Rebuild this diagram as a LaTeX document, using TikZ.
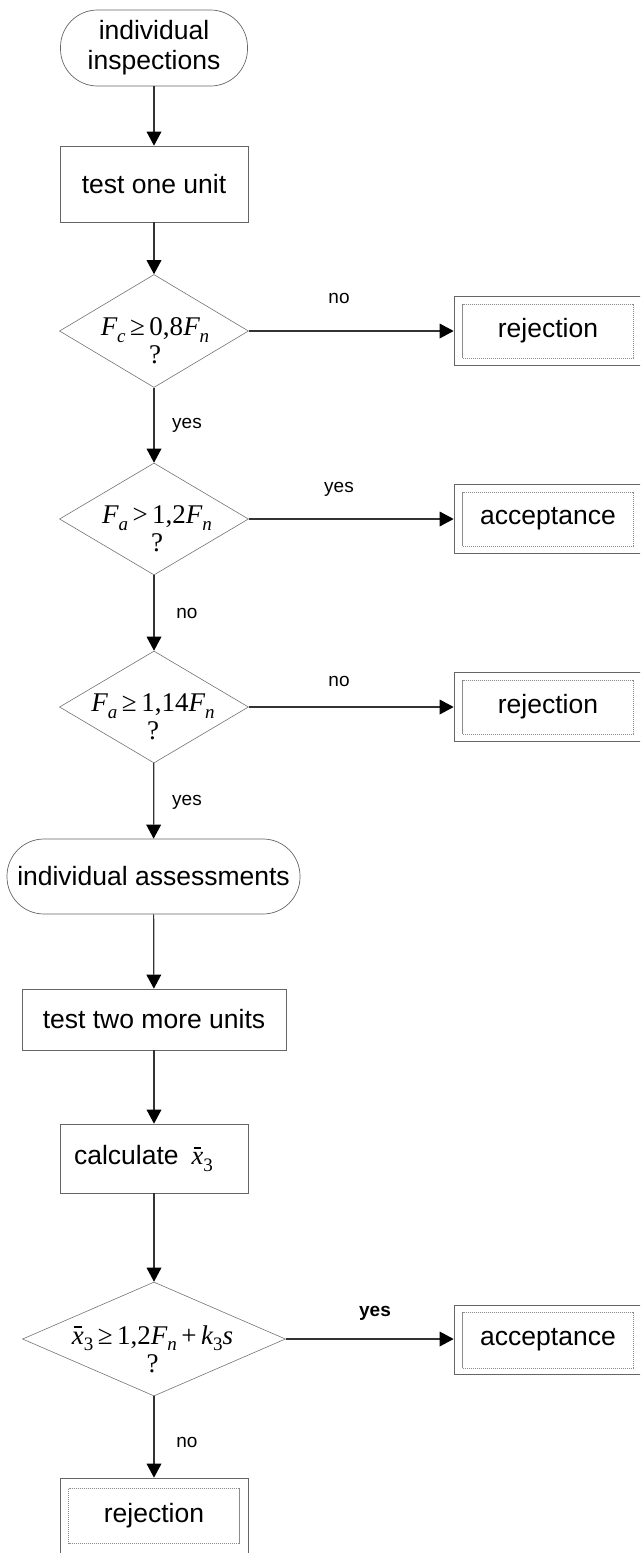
\documentclass[tikz,border=0pt]{standalone}
\usepackage{fontspec}
\setmainfont{Liberation Sans}
\newfontfamily\tms{Liberation Serif}
\usetikzlibrary{arrows.meta,shapes.geometric}
\newcommand\iv[1]{{\tms\itshape #1}}
\newcommand\sbi[1]{\raisebox{-0.24em}{\fontsize{19}{19}\selectfont\tms\itshape #1}}
\newcommand\sbu[1]{\raisebox{-0.24em}{\fontsize{19}{19}\selectfont\tms #1}}
\newcommand\xbar{\leavevmode\rlap{\hspace{0.07em}\raisebox{0.6em}{\rule{0.3em}{1.7pt}}}\iv{x}}
\begin{document}
\begin{tikzpicture}[x=1pt,y=-1pt,
  proc/.style={draw=black!60, line width=0.7pt, fill=white, inner sep=0pt,
    font=\fontsize{26.5}{30}\selectfont, align=center},
  term/.style={proc, rounded corners=37pt},
  dec/.style={draw=black!55, line width=0.6pt, diamond, inner sep=0pt},
  mtext/.style={inner sep=0pt, align=center, font=\fontsize{27}{28}\selectfont\tms},
  outcome/.style={proc, minimum width=188pt, minimum height=69pt},
  inbox/.style={draw=black!45, line width=0.6pt, dash pattern=on 1.5pt off 0.5pt},
  arr/.style={draw=black!80, line width=1.2pt, -{Triangle[length=14pt,width=15pt,line width=0pt,color=black]}},
  lab/.style={font=\fontsize{19}{19}\selectfont, inner sep=0pt}
]
\useasboundingbox (0,0) rectangle (640,1553);
\clip (0,0) rectangle (640,1553);

% main column
\node[term, minimum width=187pt, minimum height=76pt] (start) at (154,48) {individual\\inspections};
\node[proc, minimum width=188pt, minimum height=76pt] (t1) at (154,184) {test one unit};

\node[dec, minimum width=189pt, minimum height=113pt] (d1) at (154,331) {};
\node[mtext] (d1t) at (155,341) {\iv{F}\sbi{c}\,≥\,0,8\iv{F}\sbi{n}\\?};

\node[dec, minimum width=189pt, minimum height=112pt] (d2) at (154,519) {};
\node[mtext] (d2t) at (157,529) {\iv{F}\sbi{a}\,>\,1,2\iv{F}\sbi{n}\\?};

\node[dec, minimum width=189pt, minimum height=112pt] (d3) at (154,707) {};
\node[mtext] (d3t) at (153,717) {\iv{F}\sbi{a}\,≥\,1,14\iv{F}\sbi{n}\\?};

\node[term, minimum width=293pt, minimum height=75pt] (term2) at (153.5,876.5) {individual assessments};
\node[proc, minimum width=264pt, minimum height=61pt] (t2) at (154,1019.5) {test two more units};
\node[proc, minimum width=188pt, minimum height=69pt] (calc) at (154,1158.5) {calculate\hspace{13pt}\xbar\sbu{3}\hspace{21pt}};

\node[dec, minimum width=263pt, minimum height=114pt] (d4) at (154,1339) {};
\node[mtext] (d4t) at (152.5,1349) {\xbar\sbu{3}\,≥\,1,2\iv{F}\sbi{n}\,+\,\iv{k}\sbu{3}\iv{s}\\?};

\node[proc, minimum width=188pt, minimum height=76pt] (r3) at (154,1516) {rejection};
\draw[inbox] ([shift={(9pt,-11pt)}]r3.north west) rectangle ([shift={(-9pt,11pt)}]r3.south east);

% right column
\node[outcome] (r1) at (548,331) {rejection};
\draw[inbox] ([shift={(9pt,-8pt)}]r1.north west) rectangle ([shift={(-9pt,8pt)}]r1.south east);
\node[outcome] (a1) at (548,519) {acceptance};
\draw[inbox] ([shift={(9pt,-8pt)}]a1.north west) rectangle ([shift={(-9pt,8pt)}]a1.south east);
\node[outcome] (r2) at (548,707) {rejection};
\draw[inbox] ([shift={(9pt,-8pt)}]r2.north west) rectangle ([shift={(-9pt,8pt)}]r2.south east);
\node[outcome] (a2) at (548,1340) {acceptance};
\draw[inbox] ([shift={(9pt,-7pt)}]a2.north west) rectangle ([shift={(-9pt,7pt)}]a2.south east);

% connectors
\draw[arr] (start) -- (t1);
\draw[arr] (t1) -- (d1);
\draw[arr] (d1) -- (d2);
\draw[arr] (d2) -- (d3);
\draw[arr] (d3) -- (term2);
\draw[arr] (term2) -- (t2);
\draw[arr] (t2) -- (calc);
\draw[arr] (calc) -- (d4);
\draw[arr] (d4) -- (r3);
\draw[arr] (d1.east) -- (r1.west);
\draw[arr] (d2.east) -- (a1.west);
\draw[arr] (d3.east) -- (r2.west);
\draw[arr] (d4.east) -- (a2.west |- d4.east);

% labels
\node[lab] (l1) at (339,298) {no};
\node[lab] (l2) at (339,489) {yes};
\node[lab] (l3) at (339,681) {no};
\node[lab, font=\fontsize{19}{19}\selectfont\bfseries] (l4) at (375,1313) {yes};
\node[lab] (v1) at (187,425) {yes};
\node[lab] (v2) at (187,613) {no};
\node[lab] (v3) at (187,802) {yes};
\node[lab] (v4) at (187,1442) {no};
\end{tikzpicture}
\end{document}
